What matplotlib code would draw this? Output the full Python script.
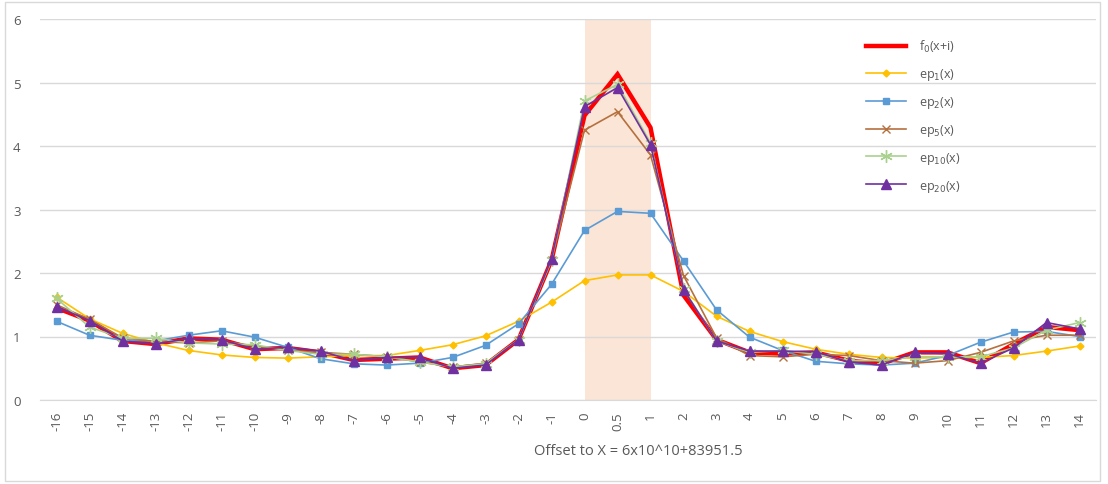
import matplotlib
matplotlib.use("Agg")
import matplotlib.pyplot as plt
from matplotlib.patches import Rectangle

categories = ["-16", "-15", "-14", "-13", "-12", "-11", "-10", "-9", "-8", "-7", "-6", "-5", "-4", "-3", "-2", "-1",
              "0", "0.5", "1", "2", "3", "4", "5", "6", "7", "8", "9", "10", "11", "12", "13", "14"]

f0 = [1.45, 1.25, 0.93, 0.88, 0.97, 0.95, 0.80, 0.82, 0.75, 0.63, 0.65, 0.67, 0.50, 0.55, 0.95, 2.20,
      4.48, 5.13, 4.29, 1.65, 0.95, 0.75, 0.73, 0.75, 0.62, 0.57, 0.75, 0.75, 0.58, 0.88, 1.15, 1.10]
ep1 = [1.62, 1.28, 1.05, 0.90, 0.78, 0.71, 0.67, 0.66, 0.68, 0.70, 0.70, 0.78, 0.87, 1.01, 1.24, 1.54,
       1.88, 1.97, 1.97, 1.71, 1.32, 1.08, 0.92, 0.80, 0.72, 0.67, 0.66, 0.67, 0.67, 0.70, 0.77, 0.85]
ep2 = [1.24, 1.02, 0.94, 0.93, 1.02, 1.09, 0.99, 0.83, 0.65, 0.57, 0.55, 0.58, 0.67, 0.86, 1.20, 1.82,
       2.67, 2.97, 2.94, 2.19, 1.42, 0.99, 0.78, 0.61, 0.57, 0.55, 0.58, 0.70, 0.91, 1.07, 1.08, 1.00]
ep5 = [1.50, 1.27, 0.98, 0.92, 0.90, 0.93, 0.85, 0.78, 0.75, 0.72, 0.68, 0.60, 0.52, 0.58, 0.95, 2.20,
       4.25, 4.54, 3.86, 1.96, 0.98, 0.70, 0.68, 0.72, 0.70, 0.62, 0.58, 0.62, 0.75, 0.93, 1.02, 1.02]
ep10 = [1.60, 1.15, 0.97, 0.97, 0.90, 0.88, 0.87, 0.78, 0.72, 0.72, 0.68, 0.60, 0.52, 0.57, 0.95, 2.20,
        4.71, 4.97, 4.05, 1.75, 0.93, 0.75, 0.78, 0.72, 0.62, 0.62, 0.68, 0.68, 0.68, 0.82, 1.10, 1.22]
ep20 = [1.47, 1.25, 0.93, 0.88, 0.97, 0.95, 0.80, 0.83, 0.77, 0.62, 0.67, 0.67, 0.50, 0.55, 0.95, 2.22,
        4.62, 4.92, 4.02, 1.74, 0.93, 0.77, 0.77, 0.76, 0.60, 0.55, 0.75, 0.73, 0.58, 0.82, 1.22, 1.12]

shade_from = "0"
shade_to = "1"

plt.rcParams['font.family'] = ['Open Sans', 'DejaVu Sans']
text_color = "#595959"
grid_color = "#D9D9D9"

fig = plt.figure(figsize=(11.08, 4.85), dpi=100)
W, H = 1108, 485
ax = fig.add_axes([40 / W, (H - 401) / H, (1096 - 40) / W, (401 - 20) / H])

x = list(range(len(categories)))
i0 = categories.index(shade_from)
i1 = categories.index(shade_to)
ax.axvspan(i0, i1, color="#FBE5D6", zorder=0, lw=0)

ax.plot(x, f0, color="#FF0000", lw=3.2, label="f$_0$(x+i)", zorder=2, solid_joinstyle="miter")
ax.plot(x, ep1, color="#FFC000", lw=1.2, marker="D", ms=3.5, label="ep$_1$(x)", zorder=3)
ax.plot(x, ep2, color="#5B9BD5", lw=1.2, marker="s", ms=4, label="ep$_2$(x)", zorder=3)
ax.plot(x, ep5, color="#B5703E", lw=1.2, marker="x", ms=6, mew=1.0, label="ep$_5$(x)", zorder=3)
ax.plot(x, ep10, color="#A9D18E", lw=1.2, marker=(6, 2, 0), ms=9, mew=1.0, label="ep$_{10}$(x)", zorder=3)
ax.plot(x, ep20, color="#7030A0", lw=1.2, marker="^", ms=7, label="ep$_{20}$(x)", zorder=4)

ax.set_xlim(-0.5, len(categories) - 0.5)
ax.set_ylim(0, 6)
ax.set_yticks(range(0, 7))
ax.set_xticks(x)
ax.set_xticklabels(categories, rotation=90, va="top", ha="center")
ax.tick_params(axis="both", length=0, labelsize=9.5, colors=text_color)
ax.tick_params(axis="y", pad=14)
ax.tick_params(axis="x", pad=8)
ax.grid(axis="y", color=grid_color, lw=1)
ax.set_axisbelow(True)
for s in ["top", "right", "left"]:
    ax.spines[s].set_visible(False)
ax.spines["bottom"].set_color(grid_color)
ax.spines["bottom"].set_zorder(1)

leg = ax.legend(loc="upper left", bbox_to_anchor=((855 - 40) / (1056), (401 - 28) / 381),
                frameon=False, fontsize=9, labelcolor=text_color, handlelength=3.2,
                labelspacing=0.95, handletextpad=1.0)

fig.text(638 / W, 1 - 452 / H, "Offset to X = 6x10^10+83951.5", ha="center", va="center",
         fontsize=10.5, color=text_color)

fig.patches.append(Rectangle((5 / W, 3 / H), (1100 - 5) / W, (482 - 3) / H, transform=fig.transFigure,
                             fill=False, edgecolor=grid_color, lw=1))

fig.savefig("out.png", dpi=100)
